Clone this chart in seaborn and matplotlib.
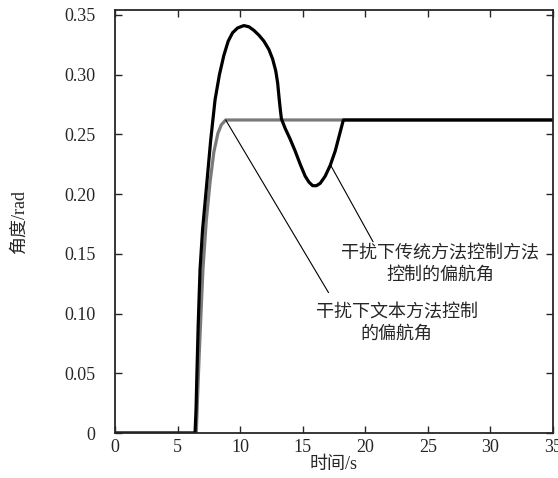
import matplotlib
matplotlib.use("Agg")
import matplotlib.pyplot as plt
import pandas as pd
import seaborn as sns

# --- data ---
t_trad = [0, 6.4, 6.48, 6.55, 6.65, 6.8, 7.0, 7.33, 7.65, 8.0, 8.35, 8.7, 9.05, 9.4, 9.8,
          10.3, 10.7, 11.1, 11.5, 11.9, 12.3, 12.6, 12.85, 13.0, 13.12, 13.22, 13.3,
          13.6, 14.0, 14.4, 14.8, 15.2, 15.5, 15.8, 16.1, 16.4, 16.8, 17.2, 17.6, 17.95,
          18.25, 35]
y_trad = [0, 0, 0.02, 0.05, 0.09, 0.137, 0.17, 0.208, 0.245, 0.279, 0.30, 0.316, 0.328,
          0.335, 0.339, 0.341, 0.340, 0.337, 0.333, 0.328, 0.321, 0.313, 0.303, 0.293,
          0.28, 0.27, 0.263, 0.255, 0.246, 0.236, 0.225, 0.215, 0.210, 0.207, 0.207,
          0.209, 0.215, 0.224, 0.236, 0.250, 0.262, 0.262]

t_text = [0, 6.5, 6.6, 6.75, 7.03, 7.3, 7.6, 7.9, 8.23, 8.5, 8.85, 35]
y_text = [0, 0, 0.03, 0.07, 0.137, 0.178, 0.21, 0.235, 0.251, 0.258, 0.262, 0.262]

label_trad = "干扰下传统方法控制方法\n控制的偏航角"
label_text = "干扰下文本方法控制\n的偏航角"
x_ticks = [0, 5, 10, 15, 20, 25, 30, 35]
y_ticks = [0, 0.05, 0.10, 0.15, 0.20, 0.25, 0.30, 0.35]
y_tick_labels = ["0", "0.05", "0.10", "0.15", "0.20", "0.25", "0.30", "0.35"]

df_trad = pd.DataFrame({"t": t_trad, "y": y_trad})
df_text = pd.DataFrame({"t": t_text, "y": y_text})

sns.set_style("ticks")
plt.rcParams["font.family"] = ["Liberation Serif", "Noto Sans CJK SC"]
plt.rcParams["xtick.direction"] = "in"
plt.rcParams["ytick.direction"] = "in"

fig = plt.figure(figsize=(5.58, 4.78), dpi=100)
ax = fig.add_axes([0.206, 0.094, 0.785, 0.885])

sns.lineplot(data=df_text, x="t", y="y", ax=ax, color="#7a7a7a", linewidth=2.3,
             sort=False, estimator=None)
sns.lineplot(data=df_trad, x="t", y="y", ax=ax, color="black", linewidth=2.3,
             sort=False, estimator=None)

# annotation leader lines
ax.annotate(label_text, xy=(8.85, 0.262), xytext=(22.5, 0.092), fontsize=13,
            ha="center", va="center", linespacing=1.3,
            arrowprops=dict(arrowstyle="-", color="black", lw=0.8, shrinkA=0, shrinkB=0,
                            relpos=(0.08, 1.3)))
ax.annotate(label_trad, xy=(17.19, 0.225), xytext=(26.0, 0.141), fontsize=13,
            ha="center", va="center", linespacing=1.3,
            arrowprops=dict(arrowstyle="-", color="black", lw=0.8, shrinkA=0, shrinkB=0,
                            relpos=(0.16, 1.1)))

ax.set_xlim(0, 35)
ax.set_ylim(0, 0.354)
ax.set_xticks(x_ticks)
ax.set_xticklabels([str(v) for v in x_ticks])
ax.set_yticks(y_ticks)
ax.set_yticklabels(y_tick_labels)
ax.tick_params(which="both", top=True, right=True, length=5, width=1, labelsize=13)
ax.tick_params(axis="x", pad=4)
ax.tick_params(axis="y", pad=14)
for s in ax.spines.values():
    s.set_linewidth(1.3)
ax.set_xlabel("时间/s", fontsize=13, labelpad=0)
ax.set_ylabel("角度/rad", fontsize=13, labelpad=26)

fig.savefig("out.png", dpi=100)
